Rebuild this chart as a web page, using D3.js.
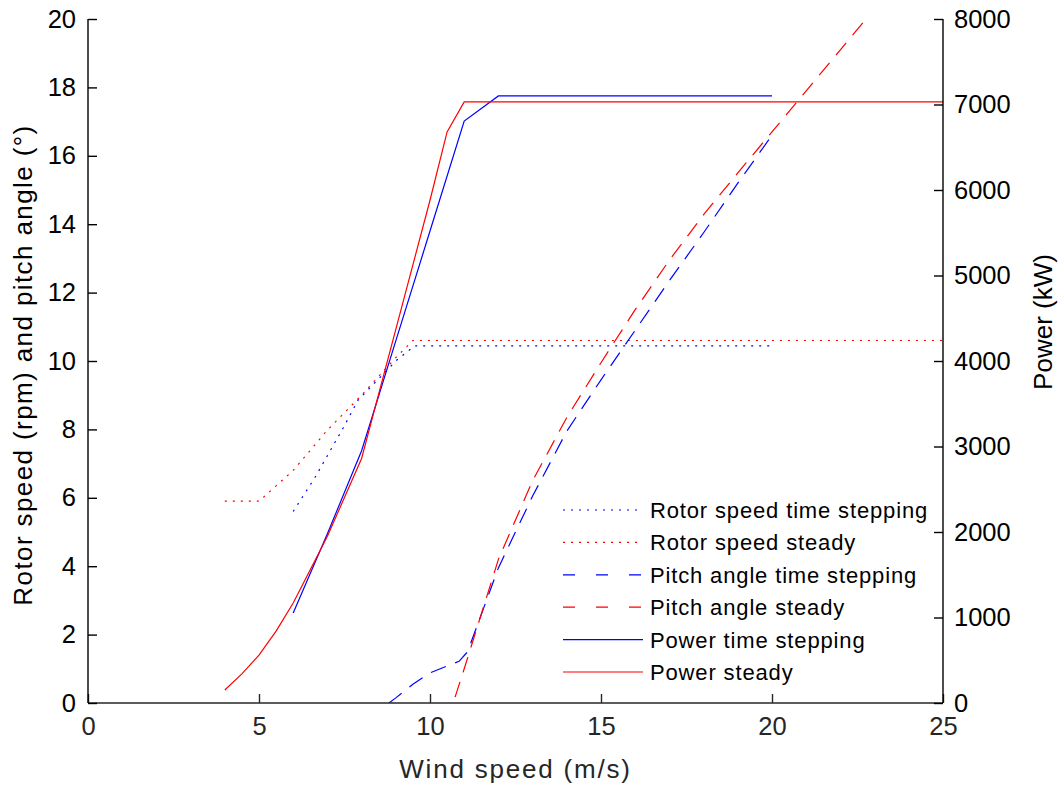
<!DOCTYPE html>
<html>
<head>
<meta charset="utf-8">
<script src="https://cdn.jsdelivr.net/npm/d3@7"></script>
<style>
  body { margin: 0; background: #fff; }
  text { font-family: "Liberation Sans", Arial, sans-serif; }
</style>
</head>
<body>
<svg width="1063" height="785"></svg>
<script>
// wind speed (m/s) and values
var rotorTsWind   = [6, 6.64, 7.46, 7.9, 9.03, 9.55, 20];
var rotorTs       = [5.6, 6.6, 8.04, 8.86, 10.03, 10.44, 10.44];
var rotorStWind   = [4, 5, 6, 7, 8, 9, 9.5, 25];
var rotorSt       = [5.9, 5.9, 6.8, 7.98, 9.0, 10.1, 10.6, 10.6];
var pitchTsWind   = [8.8, 9, 9.5, 10, 10.85, 11.1, 12, 13, 14, 15, 16, 17, 18, 19, 20];
var pitchTs       = [0, 0.15, 0.55, 0.88, 1.22, 1.5, 3.95, 6.05, 7.95, 9.45, 10.9, 12.35, 13.75, 15.2, 16.6];
var pitchStWind   = [10.5, 11, 12, 13, 14, 15, 16, 17, 18, 19, 20, 21, 22, 23];
var pitchSt       = [-0.55, 1.0, 4.2, 6.5, 8.35, 9.95, 11.5, 12.95, 14.28, 15.5, 16.7, 17.9, 19.1, 20.3];
var powerTsWind   = [6, 7, 8, 9, 10, 11, 12, 20];
var powerTs       = [1053, 1980, 2950, 4235, 5520, 6807, 7100, 7100];
var powerStWind   = [4, 4.5, 5, 5.5, 6, 7, 8, 9, 10, 10.5, 11, 25];
var powerSt       = [152, 340, 560, 840, 1170, 1950, 2860, 4370, 5880, 6680, 7030, 7030];

var xTicks = [0, 5, 10, 15, 20, 25];
var yTicks = [0, 2, 4, 6, 8, 10, 12, 14, 16, 18, 20];
var pTicks = [0, 1000, 2000, 3000, 4000, 5000, 6000, 7000, 8000];

var svg = d3.select("svg"),
    margin = {top: 19, right: 120, bottom: 82, left: 88},
    width = svg.attr("width") - margin.left - margin.right,
    height = svg.attr("height") - margin.top - margin.bottom,
    g = svg.append("g").attr("transform", "translate(" + margin.left + "," + margin.top + ")");

var x = d3.scaleLinear().domain([0, 25]).range([0, width]),
    y = d3.scaleLinear().domain([0, 20]).range([height, 0]),
    yp = d3.scaleLinear().domain([0, 8000]).range([height, 0]);

svg.append("defs").append("clipPath").attr("id", "clip")
  .append("rect").attr("width", width).attr("height", height);

var series = [
  {name: "Rotor speed time stepping", xs: rotorTsWind, ys: rotorTs, sc: y, color: "#0000ff", dash: "2,6"},
  {name: "Rotor speed steady", xs: rotorStWind, ys: rotorSt, sc: y, color: "#ff0000", dash: "2,6"},
  {name: "Pitch angle time stepping", xs: pitchTsWind, ys: pitchTs, sc: y, color: "#0000ff", dash: "16,10"},
  {name: "Pitch angle steady", xs: pitchStWind, ys: pitchSt, sc: y, color: "#ff0000", dash: "16,10"},
  {name: "Power time stepping", xs: powerTsWind, ys: powerTs, sc: yp, color: "#0000ff", dash: null},
  {name: "Power steady", xs: powerStWind, ys: powerSt, sc: yp, color: "#ff0000", dash: null}
];

var plot = g.append("g").attr("clip-path", "url(#clip)");

series.forEach(function(s) {
  var line = d3.line()
      .x(function(d, i) { return x(s.xs[i]); })
      .y(function(d) { return s.sc(d); });
  plot.append("path")
      .attr("d", line(s.ys))
      .attr("fill", "none")
      .attr("stroke", s.color)
      .attr("stroke-width", 1.2)
      .attr("stroke-dasharray", s.dash);
});

// axes (ticks inside, like the original)
var xAxis = g.append("g")
    .attr("transform", "translate(0," + height + ")")
    .call(d3.axisBottom(x).tickValues(xTicks).tickSize(-9).tickPadding(14));

var yAxis = g.append("g")
    .call(d3.axisLeft(y).tickValues(yTicks).tickSize(-9).tickPadding(12));

var pAxis = g.append("g")
    .attr("transform", "translate(" + width + ",0)")
    .call(d3.axisRight(yp).tickValues(pTicks).tickFormat(d3.format("d")).tickSize(-9).tickPadding(11));

[xAxis, yAxis, pAxis].forEach(function(a) {
  a.selectAll("text").style("font-size", "25.5px").attr("fill", "#000");
  a.select(".domain").attr("stroke", "#000").attr("stroke-width", 1.4);
  a.selectAll(".tick line").attr("stroke", "#000").attr("stroke-width", 1.4);
});
xAxis.selectAll("text").attr("fill", "#262626");
xAxis.select(".domain").attr("stroke", "#262626");
xAxis.selectAll(".tick line").attr("stroke", "#262626");
// d3 draws outer ticks on domain ends; flatten them
xAxis.select(".domain").attr("d", "M0,0H" + width);
yAxis.select(".domain").attr("d", "M0," + height + "V0");
pAxis.select(".domain").attr("d", "M0," + height + "V0");

g.append("text")
    .attr("x", width / 2)
    .attr("y", height + 75)
    .attr("text-anchor", "middle")
    .style("font-size", "26px")
    .style("letter-spacing", "1.8px")
    .attr("fill", "#262626")
    .text("Wind speed (m/s)");

g.append("text")
    .attr("transform", "translate(" + (32 - margin.left) + "," + (height / 2 + 4) + ") rotate(-90)")
    .attr("text-anchor", "middle")
    .style("font-size", "26px")
    .style("letter-spacing", "1.4px")
    .text("Rotor speed (rpm) and pitch angle (\u00b0)");

g.append("text")
    .attr("transform", "translate(" + (1052 - margin.left) + "," + (322 - margin.top) + ") rotate(-90)")
    .attr("text-anchor", "middle")
    .style("font-size", "26px")
    .text("Power (kW)");

// legend
var legend = g.append("g").attr("transform", "translate(" + (563 - margin.left) + "," + (510 - margin.top) + ")");
var legendDash = {"2,6": "2,6", "16,10": "12,21"};

series.forEach(function(s, i) {
  var row = legend.append("g").attr("transform", "translate(0," + (i * 32.4) + ")");
  row.append("line")
      .attr("x1", 0).attr("x2", 80)
      .attr("stroke", s.color)
      .attr("stroke-width", 1.2)
      .attr("stroke-dasharray", s.dash ? legendDash[s.dash] : null);
  row.append("text")
      .attr("x", 87)
      .attr("y", 8)
      .style("font-size", "22px")
      .style("letter-spacing", "0.85px")
      .text(s.name);
});
</script>
</body>
</html>
